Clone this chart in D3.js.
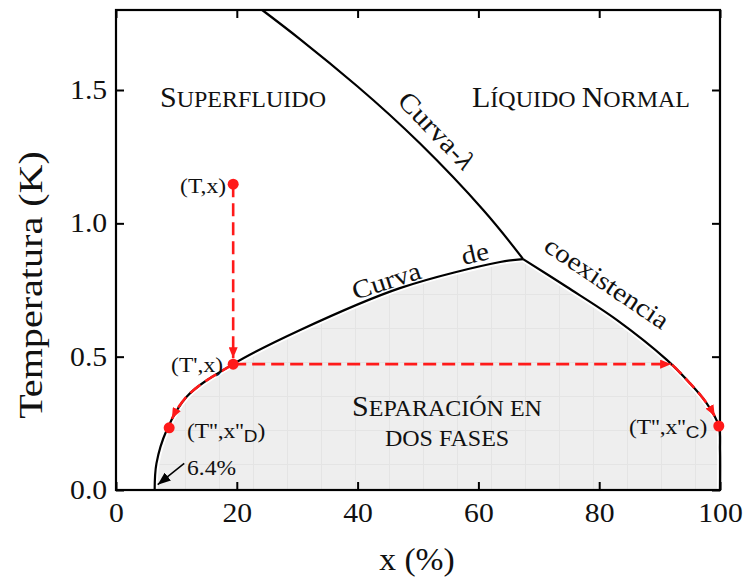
<!DOCTYPE html>
<html>
<head>
<meta charset="utf-8">
<script src="https://cdn.jsdelivr.net/npm/d3@7"></script>
<style>
  body { margin: 0; background: #fff; }
  svg { display: block; }
  text { font-family: "Liberation Serif", "Times New Roman", serif; fill: #111; }
</style>
</head>
<body>
<svg id="chart" width="745" height="579"></svg>
<script>
// λ-line of 3He-4He mixtures (x in % of 3He, T in K)
const lambdaX = [24.2, 30.5, 39.9, 50.3, 60.8, 67.4];
const lambdaT = [1.80, 1.69, 1.515, 1.30, 1.05, 0.866];
// coexistence curve, 4He-rich (dilute) branch, from T = 0 up to the tricritical point
const coexLeftX = [6.4, 6.7, 8.4, 11.7, 19.4, 30.5, 47.0, 63.6, 67.4];
const coexLeftT = [0.0, 0.10, 0.225, 0.35, 0.472, 0.60, 0.757, 0.855, 0.866];
// coexistence curve, 3He-rich (concentrated) branch, from the tricritical point down
const coexRightX = [67.4, 74.6, 82.9, 91.2, 94.5, 97.8, 99.8, 100, 100];
const coexRightT = [0.866, 0.762, 0.638, 0.488, 0.413, 0.325, 0.24, 0.15, 0.0];
// states along the cooling path
const stateX = [19.4, 19.4, 8.8, 99.8];
const stateT = [1.147, 0.472, 0.233, 0.24];
// axis ticks
const xTicks = [0, 20, 40, 60, 80, 100];
const yTicks = [0.0, 0.5, 1.0, 1.5];

const W = 745, H = 579;
const margin = { top: 10, right: 25, bottom: 89, left: 116 };
const svg = d3.select("#chart");

const x = d3.scaleLinear().domain([0, 100]).range([margin.left, W - margin.right]);
const y = d3.scaleLinear().domain([0, 1.8]).range([H - margin.bottom, margin.top]);

const toPts = (xs, ts) => xs.map((v, i) => [v, ts[i]]);
const lambdaPts = toPts(lambdaX, lambdaT);
const leftPts = toPts(coexLeftX, coexLeftT);
const rightPts = toPts(coexRightX, coexRightT);
const states = toPts(stateX, stateT);

const line = d3.line().x(d => x(d[0])).y(d => y(d[1])).curve(d3.curveCatmullRom.alpha(0.5));
const smoothLine = d3.line().x(d => x(d[0])).y(d => y(d[1])).curve(d3.curveNatural);
const pxLine = d3.line();

// ---- defs: texture for the two-phase region, arrow heads
const defs = svg.append("defs");
const pat = defs.append("pattern")
  .attr("id", "phaseFill").attr("patternUnits", "userSpaceOnUse")
  .attr("x", 117).attr("y", 464).attr("width", 34).attr("height", 34);
pat.append("rect").attr("width", 34).attr("height", 34).attr("fill", "#eeeeee");
pat.append("path").attr("d", "M0,0.5H34M0.5,0V34").attr("stroke", "#e4e4e4").attr("stroke-width", 1).attr("fill", "none");

function arrowMarker(id, color, w, h) {
  defs.append("marker")
    .attr("id", id).attr("markerUnits", "userSpaceOnUse")
    .attr("viewBox", `0 0 ${w} ${h}`)
    .attr("markerWidth", w).attr("markerHeight", h)
    .attr("refX", w).attr("refY", h / 2).attr("orient", "auto")
    .append("path").attr("d", `M0,0L${w},${h / 2}L0,${h}Z`).attr("fill", color);
}
arrowMarker("redHead", "#ff1a1a", 11, 9);
arrowMarker("blackHead", "#000", 13, 10);

// ---- two-phase region
const leftD = line(leftPts);
const rightD = line(rightPts);
svg.append("path")
  .attr("d", leftD + rightD.replace(/^M/, "L") + "Z")
  .attr("fill", "url(#phaseFill)");

// ---- curves (white halo under the coexistence curve)
const curves = svg.append("g").attr("fill", "none");
[leftD, rightD].forEach(d => curves.append("path").attr("d", d).attr("stroke", "#fff").attr("stroke-width", 6));
const leftPath = curves.append("path").attr("d", leftD).attr("stroke", "#000").attr("stroke-width", 2.2);
const rightPath = curves.append("path").attr("d", rightD).attr("stroke", "#000").attr("stroke-width", 2.2);
curves.append("path").attr("d", smoothLine(lambdaPts)).attr("stroke", "#000").attr("stroke-width", 2.2);

// ---- frame and axes (ticks pointing inward)
const plot = { x0: x(0), x1: x(100), y0: y(1.8), y1: y(0) };
const fmtY = d3.format(".1f");
const axB = svg.append("g").attr("transform", `translate(0,${plot.y1})`)
  .call(d3.axisBottom(x).tickValues(xTicks).tickSizeInner(-8).tickSizeOuter(0).tickPadding(13));
const axT = svg.append("g").attr("transform", `translate(0,${plot.y0})`)
  .call(d3.axisTop(x).tickValues(xTicks).tickSizeInner(-8).tickSizeOuter(0).tickFormat(""));
const axL = svg.append("g").attr("transform", `translate(${plot.x0},0)`)
  .call(d3.axisLeft(y).tickValues(yTicks).tickSizeInner(-8).tickSizeOuter(0).tickPadding(8).tickFormat(fmtY));
const axR = svg.append("g").attr("transform", `translate(${plot.x1},0)`)
  .call(d3.axisRight(y).tickValues(yTicks).tickSizeInner(-8).tickSizeOuter(0).tickFormat(""));
[axB, axT, axL, axR].forEach(a => {
  a.select(".domain").remove();
  a.selectAll(".tick line").attr("stroke", "#000").attr("stroke-width", 2);
  a.selectAll(".tick text").attr("font-family", "Liberation Serif").attr("font-size", 27)
    .attr("fill", "#111").attr("transform", "scale(1.1,1)");
});
svg.append("rect")
  .attr("x", plot.x0).attr("y", plot.y0)
  .attr("width", plot.x1 - plot.x0).attr("height", plot.y1 - plot.y0)
  .attr("fill", "none").attr("stroke", "#000").attr("stroke-width", 2.2);

// axis titles
svg.append("text").attr("transform", `translate(${(plot.x0 + plot.x1) / 2 - 1},570) scale(1.05,1)`)
  .attr("text-anchor", "middle").attr("font-size", 32).text("x (%)");
svg.append("text").attr("transform", `translate(42,${(plot.y0 + plot.y1) / 2 + 35}) rotate(-90) scale(1.18,1)`)
  .attr("text-anchor", "middle").attr("font-size", 34).text("Temperatura (K)");

// ---- cooling path (red dashed arrows)
const red = "#ff1a1a";
const pS = states.map(d => [x(d[0]), y(d[1])]);

// trace part of a drawn curve between two heights (pixel space)
function traceCurve(node, yFrom, yTo) {
  const L = node.getTotalLength(), pts = [];
  for (let l = 0; l <= L; l += 1) {
    const p = node.getPointAtLength(l);
    if (p.y >= Math.min(yFrom, yTo) && p.y <= Math.max(yFrom, yTo)) pts.push([p.x, p.y]);
  }
  return pts;
}
const arrows = svg.append("g").attr("fill", "none").attr("stroke", red)
  .attr("stroke-width", 2.6).attr("stroke-dasharray", "13,6");

// vertical cooling at constant x
arrows.append("path").attr("d", pxLine([pS[0], [pS[1][0], pS[1][1] - 6]]))
  .attr("marker-end", "url(#redHead)");
// along the dilute branch, down to (T'',x''D)
const leftTrace = traceCurve(leftPath.node(), pS[1][1], pS[2][1] - 9).reverse();
arrows.append("path").attr("d", pxLine(leftTrace)).attr("marker-end", "url(#redHead)");
// along the concentrated branch, down to (T'',x''C)
const rightTrace = traceCurve(rightPath.node(), pS[1][1], pS[3][1] - 9);
arrows.append("path").attr("d", pxLine([pS[1], [rightTrace[0][0] - 1, pS[1][1]]]))
  .attr("marker-end", "url(#redHead)");
arrows.append("path").attr("d", pxLine(rightTrace)).attr("marker-end", "url(#redHead)");

svg.append("g").selectAll("circle").data(pS).join("circle")
  .attr("cx", d => d[0]).attr("cy", d => d[1]).attr("r", 5.5).attr("fill", red);

// ---- labels
function label(parts, tx, ty, opts = {}) {
  const t = svg.append("text")
    .attr("transform", `translate(${tx},${ty}) rotate(${opts.rotate || 0}) scale(${opts.sx || 1},1)`)
    .attr("text-anchor", opts.anchor || "start");
  parts.forEach(p => {
    const s = t.append("tspan").attr("font-size", p.size).text(p.t);
    if (p.family) s.attr("font-family", p.family);
    if (p.dy) s.attr("dy", p.dy);
    if (p.italic) s.attr("font-style", "italic");
  });
  return t;
}

// region names (small capitals)
label([{ t: "S", size: 30 }, { t: "UPERFLUIDO", size: 24 }], 243, 107, { anchor: "middle" });
label([{ t: "L", size: 30 }, { t: "ÍQUIDO ", size: 24 }, { t: "N", size: 30 }, { t: "ORMAL", size: 24 }], 581, 107, { anchor: "middle" });
label([{ t: "S", size: 30 }, { t: "EPARACIÓN EN", size: 24 }], 447, 416, { anchor: "middle" });
label([{ t: "DOS FASES", size: 24 }], 447, 446, { anchor: "middle" });

// curve names
label([{ t: "Curva-", size: 27 }, { t: "λ", size: 27, italic: true }], 430, 137, { anchor: "middle", rotate: 46, sx: 1.12 });
label([{ t: "Curva", size: 26 }], 389, 289, { anchor: "middle", rotate: -18, sx: 1.12 });
label([{ t: "de", size: 26 }], 477, 262, { anchor: "middle", rotate: -13, sx: 1.12 });
label([{ t: "coexistencia", size: 26 }], 602, 290, { anchor: "middle", rotate: 34, sx: 1.12 });

// state labels
label([{ t: "(T,x)", size: 21 }], 226, 193, { anchor: "end", sx: 1.12 });
label([{ t: "(T',x)", size: 21 }], 223, 372, { anchor: "end", sx: 1.12 });
label([{ t: "(T'',x''", size: 21 }, { t: "D", size: 17, family: "Liberation Sans", dy: 4 }, { t: ")", size: 21, dy: -4 }], 187, 438, { sx: 1.12 });
label([{ t: "(T'',x''", size: 21 }, { t: "C", size: 17, family: "Liberation Sans", dy: 4 }, { t: ")", size: 21, dy: -4 }], 629, 434, { sx: 1.12 });

// 6.4 % solubility limit at T = 0
label([{ t: "6.4%", size: 21 }], 187, 475, { sx: 1.12 });
svg.append("path")
  .attr("d", pxLine([[x(11.3), y(0.10)], [x(6.9), y(0.02)]]))
  .attr("stroke", "#000").attr("stroke-width", 1.5).attr("fill", "none")
  .attr("marker-end", "url(#blackHead)");
</script>
</body>
</html>
